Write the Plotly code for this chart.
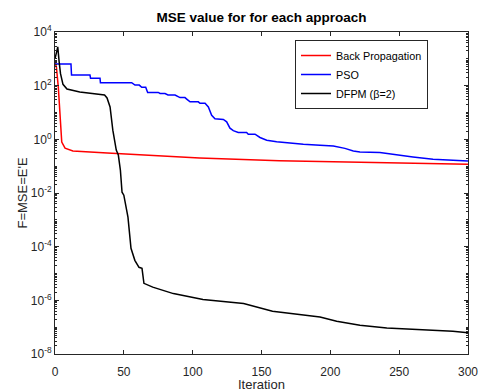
import plotly.graph_objects as go

# ---- data ----
bp_iter = [0, 1, 2.4, 3.6, 4.9, 7.3, 13, 38, 62, 91, 105, 163, 236, 300]
bp_mse = [700, 500, 89, 5.2, 0.79, 0.47, 0.37, 0.31, 0.26, 0.21, 0.20, 0.158, 0.132, 0.117]

pso_iter = [0, 11.6, 12, 25.4, 25.8, 32.7, 33, 55.7, 58.1, 61.2, 63, 65.9, 67.3, 75, 76.3,
            79.9, 82.1, 87.2, 90.8, 94.4, 95.9, 98.1, 104.1, 105.3, 109, 111.4, 113.8,
            116.2, 122.3, 124.7, 127.1, 129.5, 133.1, 139.2, 140.4, 145.3, 148.9, 153.8,
            161, 168.3, 180.4, 192.5, 202.2, 210.6, 216.7, 221.5, 236, 260, 274.6, 300]
pso_mse = [646, 646, 251, 251, 191, 191, 129, 129, 105, 105, 87, 87, 56, 56, 51,
           51, 45, 45, 36, 36, 31, 25, 25, 22, 22, 16, 7.9,
           5.8, 5.5, 4.5, 2.6, 2.1, 1.8, 1.8, 1.55, 1.55, 1.17, 0.93,
           0.81, 0.74, 0.66, 0.60, 0.56, 0.46, 0.37, 0.34, 0.32, 0.22, 0.18, 0.155]

dfpm_iter = [0, 1, 2, 3, 4, 5.8, 8.7, 18, 32.7, 36, 37.8, 40, 42, 44.5, 46, 47.5, 48.7,
             50, 53, 55.2, 58, 61, 63.2, 64.6, 71, 86, 107.5, 137, 158, 192.5, 204.6,
             221.5, 241, 265, 289, 300]
dfpm_mse = [1000, 1580, 2800, 790, 280, 112, 75, 58, 49, 45, 35, 16, 2.2, 0.40, 0.26,
            0.071, 0.0107, 0.0083, 1.26e-3, 8.7e-5, 3.1e-5, 1.7e-5, 1.55e-5, 4.3e-6,
            3.1e-6, 1.78e-6, 1.07e-6, 7.6e-7, 3.9e-7, 2.4e-7, 1.66e-7, 1.17e-7, 9.3e-8,
            8.1e-8, 7.1e-8, 6.2e-8]

series_names = ["Back Propagation", "PSO", "DFPM (\u03b2=2)"]
y_tick_vals = [1e-8, 1e-6, 1e-4, 1e-2, 1e0, 1e2, 1e4]
y_tick_text = ["10<sup>-8</sup>", "10<sup>-6</sup>", "10<sup>-4</sup>", "10<sup>-2</sup>",
               "10<sup>0</sup>", "10<sup>2</sup>", "10<sup>4</sup>"]
x_title = "Iteration"
y_title = "F=MSE=E'E"

FONT = "Liberation Sans, Arial, sans-serif"
AX = "#262626"

fig = go.Figure()
fig.add_trace(go.Scatter(x=bp_iter, y=bp_mse, mode="lines", name=series_names[0],
                         line=dict(color="#ff0000", width=1.5)))
fig.add_trace(go.Scatter(x=pso_iter, y=pso_mse, mode="lines", name=series_names[1],
                         line=dict(color="#0000ff", width=1.5)))
fig.add_trace(go.Scatter(x=dfpm_iter, y=dfpm_mse, mode="lines", name=series_names[2],
                         line=dict(color="#000000", width=1.5)))

fig.update_layout(
    width=479, height=391,
    margin=dict(l=55, r=11, t=32, b=37, autoexpand=False),
    paper_bgcolor="white", plot_bgcolor="white",
    font=dict(family=FONT, size=12, color=AX),
    title=dict(text="<b>MSE value for for each approach</b>", x=(55 + 468) / 2 / 479,
               xanchor="center", y=1 - 17 / 391, yanchor="middle",
               font=dict(family=FONT, size=13.5, color="black")),
    showlegend=True,
    legend=dict(x=(295 - 55) / 413, xanchor="left", y=(354 - 40) / 322, yanchor="top",
                bgcolor="white", bordercolor=AX, borderwidth=1,
                font=dict(family=FONT, size=10.8, color="black"),
                tracegroupgap=0, itemwidth=30),
    annotations=[dict(text=x_title, xref="paper", yref="paper", x=0.5,
                      y=(354 - 384) / 322, xanchor="center", yanchor="middle",
                      showarrow=False, font=dict(family=FONT, size=13, color=AX))],
)

fig.update_xaxes(
    range=[0, 300], tickmode="linear", tick0=0, dtick=50, automargin=False,
    showgrid=False, zeroline=False, showline=True, linecolor=AX, linewidth=1,
    mirror="allticks", ticks="inside", ticklen=4, tickcolor=AX,
    tickfont=dict(size=12, color=AX), ticklabelstandoff=7,
)
fig.update_yaxes(
    type="log", range=[-8, 4], tickmode="array", tickvals=y_tick_vals, ticktext=y_tick_text,
    automargin=False,
    showgrid=False, zeroline=False, showline=True, linecolor=AX, linewidth=1,
    mirror="allticks", ticks="inside", ticklen=4, tickcolor=AX,
    tickfont=dict(size=12, color=AX),
    minor=dict(ticks="inside", ticklen=2, tickcolor=AX, dtick="D1", showgrid=False),
    title=dict(text=y_title, font=dict(size=13, color=AX), standoff=0),
)

fig.write_html("out.html")
